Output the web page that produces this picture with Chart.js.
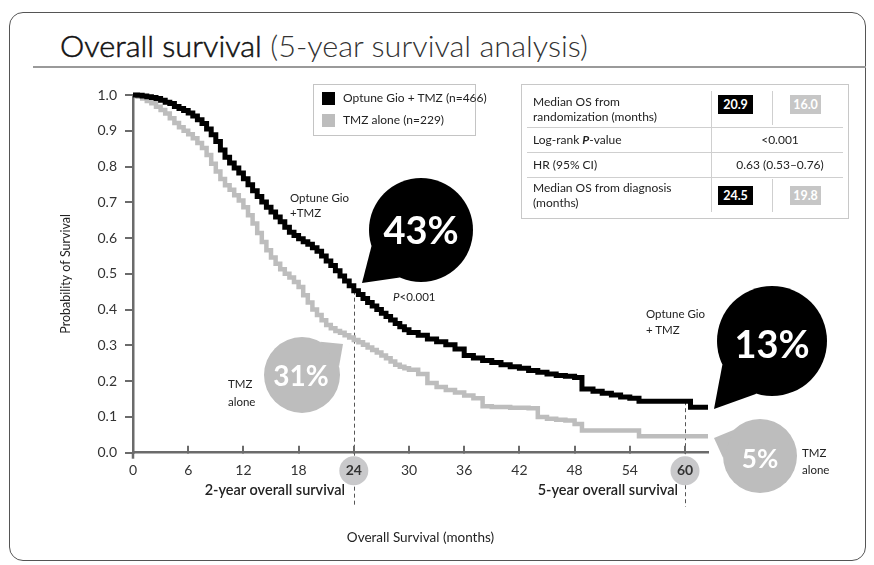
<!DOCTYPE html>
<html><head><meta charset="utf-8">
<script src="https://cdn.jsdelivr.net/npm/chart.js@4/dist/chart.umd.min.js"></script>
<style>
html,body{margin:0;padding:0;background:#fff;}
#wrap{position:relative;width:874px;height:565px;overflow:hidden;font-family:Lato,"Open Sans",sans-serif;color:#222;}
#frame{position:absolute;left:9px;top:12px;width:857px;height:549px;border:1.5px solid #555;border-radius:14px;box-sizing:border-box;}
#c{position:absolute;left:0;top:0;}
#title{position:absolute;left:60px;top:30px;font-size:30px;line-height:1;white-space:nowrap;transform-origin:0 0;color:#111;font-weight:300;}
#title .b{-webkit-text-stroke:0.5px #111;}
#title .l{color:#333;}
#rule{position:absolute;left:33px;top:66px;width:833px;height:1.5px;background:#9a9a9a;}
#legend{position:absolute;left:313px;top:84px;width:163px;height:52px;border:1px solid #c4c4c4;box-sizing:border-box;}
.sw{position:absolute;width:13px;height:13px;}
.lt{position:absolute;font-size:12px;white-space:nowrap;line-height:1;color:#222;}
#table{position:absolute;left:521px;top:84px;width:328px;height:135px;border:1px solid #c8c8c8;box-sizing:border-box;}
.hl{position:absolute;height:1px;background:#cfcfcf;}
.vl{position:absolute;width:1px;background:#cfcfcf;}
.tt{position:absolute;font-size:12px;white-space:nowrap;line-height:1;color:#222;}
.vb{position:absolute;height:19px;color:#fff;font-weight:700;font-size:12.5px;line-height:19px;text-align:center;}
.bub{position:absolute;color:#fff;font-weight:700;white-space:nowrap;line-height:1;transform:translate(-50%,-50%);}
.sm{position:absolute;font-size:11.5px;white-space:nowrap;line-height:1;color:#222;}
.yr{position:absolute;font-size:14.5px;font-weight:600;white-space:nowrap;line-height:1;color:#222;transform:translate(-100%,0);}
</style></head>
<body><div id="wrap">
<div id="frame"></div>
<div id="title"><span class="b">Overall survival</span> <span class="l">(5-year survival analysis)</span></div>
<div id="rule"></div>
<canvas id="c" width="874" height="565"></canvas>
<div id="legend"></div>
<div id="table">
  <div class="hl" style="left:5px;right:5px;top:42px"></div>
  <div class="hl" style="left:5px;right:5px;top:67px"></div>
  <div class="hl" style="left:5px;right:5px;top:92px"></div>
  <div class="vl" style="left:189px;top:6px;height:121px"></div>
  <div class="vl" style="left:250px;top:6px;height:34px"></div>
  <div class="vl" style="left:250px;top:94px;height:33px"></div>
  <div class="tt" style="left:11px;top:11px">Median OS from</div>
  <div class="tt" style="left:11px;top:26px">randomization (months)</div>
  <div class="tt" style="left:11px;top:49px">Log-rank <b><i>P</i></b>-value</div>
  <div class="tt" style="left:11px;top:74px">HR (95% CI)</div>
  <div class="tt" style="left:11px;top:97px">Median OS from diagnosis</div>
  <div class="tt" style="left:11px;top:112px">(months)</div>
  <div class="tt" style="left:258px;top:49px;transform:translateX(-50%)">&lt;0.001</div>
  <div class="tt" style="left:258px;top:74px;transform:translateX(-50%)">0.63 (0.53–0.76)</div>
  <div class="vb" style="left:196px;top:10px;width:35px;background:#000">20.9</div>
  <div class="vb" style="left:268px;top:10px;width:31px;background:#c6c6c6">16.0</div>
  <div class="vb" style="left:196px;top:101px;width:35px;background:#000">24.5</div>
  <div class="vb" style="left:268px;top:101px;width:31px;background:#c6c6c6">19.8</div>
</div>
<div class="bub" style="left:421px;top:229px;font-size:38px">43%</div>
<div class="bub" style="left:301px;top:375px;font-size:28px">31%</div>
<div class="bub" style="left:772px;top:343px;font-size:38px">13%</div>
<div class="bub" style="left:760px;top:458px;font-size:26px">5%</div>
<div class="sm" style="left:290px;top:192px">Optune Gio</div>
<div class="sm" style="left:290px;top:207px">+TMZ</div>
<div class="sm" style="left:393px;top:291px"><i>P</i>&lt;0.001</div>
<div class="sm" style="left:228px;top:378px">TMZ</div>
<div class="sm" style="left:228px;top:396px">alone</div>
<div class="sm" style="left:646px;top:308px">Optune Gio</div>
<div class="sm" style="left:646px;top:324px">+ TMZ</div>
<div class="sm" style="left:802px;top:447px">TMZ</div>
<div class="sm" style="left:802px;top:464px">alone</div>
<div class="yr" style="left:345px;top:483px">2-year overall survival</div>
<div class="yr" style="left:678px;top:483px">5-year overall survival</div>
</div>
<script>
// ---- data ----
const SERIES_LABELS = ['Optune Gio + TMZ (n=466)', 'TMZ alone (n=229)'];
const SERIES_COLORS = ['#000000', '#bdbdbd'];
const BLACK_MONTHS = [0,0.5,1,1.5,2,2.5,3,3.5,4,4.5,5,5.5,6,6.5,7,7.5,8,8.5,9,9.5,10,10.5,11,11.5,12,12.5,13,13.5,14,14.5,15,15.5,16,16.5,17,17.5,18,18.5,19,19.5,20,20.5,21,21.5,22,22.5,23,23.5,24,24.5,25,25.5,26,26.5,27,27.5,28,28.5,29,29.5,30,31,32,33,34,35,36,37,38,39,40,41,42,43,44,45,46,47,48,48.8,50,51,52,53,54,55,60.6,62.5];
const BLACK_SURV   = [1.0,0.999,0.997,0.995,0.993,0.99,0.985,0.98,0.976,0.968,0.962,0.957,0.95,0.941,0.931,0.92,0.905,0.889,0.87,0.846,0.826,0.81,0.796,0.782,0.766,0.749,0.732,0.716,0.701,0.686,0.673,0.659,0.646,0.63,0.616,0.607,0.598,0.59,0.583,0.573,0.563,0.55,0.536,0.523,0.509,0.494,0.48,0.467,0.453,0.442,0.431,0.42,0.41,0.4,0.39,0.381,0.371,0.361,0.352,0.344,0.336,0.328,0.318,0.31,0.302,0.29,0.272,0.265,0.258,0.252,0.246,0.24,0.236,0.23,0.225,0.22,0.216,0.214,0.21,0.178,0.172,0.166,0.161,0.156,0.152,0.144,0.127,0.127];
const GRAY_MONTHS  = [0,0.5,1,1.5,2,2.5,3,3.5,4,4.5,5,5.5,6,6.5,7,7.5,8,8.5,9,9.5,10,10.5,11,11.5,12,12.5,13,13.5,14,14.5,15,15.5,16,16.5,17,17.5,18,18.5,19,19.5,20,20.5,21,21.5,22,22.5,23,23.5,24,24.5,25,25.5,26,26.5,27,27.5,28,28.5,29,29.5,30,31,32,33,34,35,36,37,38,39,41,43,44,45,46,47,48,48.8,55,62.5];
const GRAY_SURV    = [1.0,0.995,0.99,0.983,0.977,0.967,0.958,0.948,0.935,0.922,0.91,0.9,0.89,0.879,0.866,0.852,0.832,0.808,0.786,0.765,0.748,0.735,0.72,0.705,0.686,0.664,0.641,0.614,0.589,0.566,0.546,0.528,0.513,0.5,0.49,0.477,0.463,0.44,0.42,0.4,0.385,0.37,0.357,0.348,0.34,0.335,0.328,0.322,0.315,0.309,0.302,0.294,0.287,0.28,0.272,0.264,0.255,0.246,0.24,0.236,0.232,0.22,0.195,0.184,0.175,0.168,0.16,0.152,0.13,0.128,0.126,0.124,0.1,0.095,0.092,0.09,0.08,0.062,0.046,0.046];
const X_TICKS = [0,6,12,18,24,30,36,42,48,54,60];
const Y_TICKS = [0,0.1,0.2,0.3,0.4,0.5,0.6,0.7,0.8,0.9,1.0];
const HIGHLIGHT_MONTHS = [24, 60];
const X_MAX = 62.5;

// legend (HTML)
const lg = document.getElementById('legend');
SERIES_LABELS.forEach((lab, i) => {
  const sw = document.createElement('div'); sw.className = 'sw';
  sw.style.left = '8px'; sw.style.top = (7 + i * 22) + 'px'; sw.style.background = SERIES_COLORS[i];
  const tx = document.createElement('div'); tx.className = 'lt';
  tx.style.left = '29px'; tx.style.top = (7 + i * 22) + 'px'; tx.textContent = lab;
  lg.appendChild(sw); lg.appendChild(tx);
});

// fit title width
const ti = document.getElementById('title');
const tw = ti.getBoundingClientRect().width;
ti.style.transform = 'scaleX(' + (528 / tw) + ')';

function stepAt(ts, vs, m) {
  let v = vs[0];
  for (let i = 0; i < ts.length; i++) { if (ts[i] <= m) v = vs[i]; }
  return v;
}

function bubble(ctx, cx, cy, r, tx, ty, color) {
  const a = Math.atan2(ty - cy, tx - cx);
  ctx.fillStyle = color;
  ctx.beginPath(); ctx.arc(cx, cy, r, 0, Math.PI * 2); ctx.fill();
  ctx.beginPath();
  ctx.moveTo(cx + r * Math.cos(a - 0.42), cy + r * Math.sin(a - 0.42));
  ctx.lineTo(tx, ty);
  ctx.lineTo(cx + r * Math.cos(a + 0.42), cy + r * Math.sin(a + 0.42));
  ctx.closePath(); ctx.fill();
}

const overlay = {
  id: 'overlay',
  beforeDraw(chart) {
    const {ctx, scales: {x, y}} = chart;
    const y0 = y.getPixelForValue(0);
    ctx.save();
    ctx.strokeStyle = '#555'; ctx.lineWidth = 1; ctx.setLineDash([4, 3]);
    HIGHLIGHT_MONTHS.forEach(m => {
      const px = Math.round(x.getPixelForValue(m)) + 0.5;
      const v = stepAt(BLACK_MONTHS, BLACK_SURV, m);
      ctx.beginPath(); ctx.moveTo(px, y.getPixelForValue(v)); ctx.lineTo(px, y0 + 54); ctx.stroke();
    });
    ctx.setLineDash([]);
    ctx.fillStyle = '#c9c9cb';
    HIGHLIGHT_MONTHS.forEach(m => {
      ctx.beginPath(); ctx.arc(x.getPixelForValue(m), y0 + 18, 14.5, 0, Math.PI * 2); ctx.fill();
    });
    ctx.restore();
  },
  afterDraw(chart) {
    const {ctx, scales: {x, y}} = chart;
    ctx.save();
    ctx.strokeStyle = '#6b6b6b'; ctx.lineWidth = 2.5;
    ctx.beginPath(); ctx.moveTo(x.getPixelForValue(0), y.getPixelForValue(0)); ctx.lineTo(x.getPixelForValue(0), y.getPixelForValue(0) + 6); ctx.stroke();
    bubble(ctx, 421, 230, 52, 362, 283, '#000');
    bubble(ctx, 302, 375, 38, 343, 344, '#bdbdbd');
    bubble(ctx, 772, 341, 55, 714, 409, '#000');
    bubble(ctx, 760, 456, 37, 714, 438, '#bdbdbd');
    ctx.restore();
  }
};

const toPts = (ts, vs) => ts.map((t, i) => ({x: t, y: vs[i]}));

new Chart(document.getElementById('c'), {
  type: 'line',
  data: {
    datasets: [
      {label: SERIES_LABELS[0], data: toPts(BLACK_MONTHS, BLACK_SURV), borderColor: SERIES_COLORS[0], borderWidth: 5, stepped: true, pointRadius: 0, fill: false, clip: false},
      {label: SERIES_LABELS[1], data: toPts(GRAY_MONTHS, GRAY_SURV), borderColor: SERIES_COLORS[1], borderWidth: 4.5, stepped: true, pointRadius: 0, fill: false, clip: false}
    ]
  },
  options: {
    responsive: false, animation: false,
    layout: {padding: {left: 54, top: 95, right: 166, bottom: 15}},
    plugins: {legend: {display: false}, tooltip: {enabled: false}},
    scales: {
      x: {
        type: 'linear', min: 0, max: X_MAX,
        afterBuildTicks: s => { s.ticks = X_TICKS.map(v => ({value: v})); },
        afterFit: s => { s.height = 97.3; },
        border: {display: true, color: '#6b6b6b', width: 2.5},
        grid: {display: true, drawOnChartArea: false, drawTicks: true, tickLength: -7, color: '#6b6b6b', lineWidth: 2},
        ticks: {
          padding: 16.5, color: '#333', maxRotation: 0, autoSkip: false,
          font: ctx => ({family: 'Lato', size: 14, weight: HIGHLIGHT_MONTHS.includes(ctx.tick && ctx.tick.value) ? '700' : '400'}),
          callback: v => String(v)
        },
        title: {display: true, text: 'Overall Survival (months)', color: '#222', font: {family: 'Lato', size: 13.5}, padding: {top: 4, bottom: 4}}
      },
      y: {
        type: 'linear', min: 0, max: 1,
        afterBuildTicks: s => { s.ticks = Y_TICKS.map(v => ({value: v})); },
        afterFit: s => { s.width = 79; },
        border: {display: true, color: '#6b6b6b', width: 2.5},
        grid: {display: true, drawOnChartArea: false, drawTicks: true, tickLength: 8, color: '#6b6b6b', lineWidth: 2},
        ticks: {padding: 8, color: '#333', font: {family: 'Lato', size: 14}, callback: v => Number(v).toFixed(1)},
        title: {display: true, text: 'Probability of Survival', color: '#222', font: {family: 'Lato', size: 12.5}, padding: {top: 4, bottom: 4}}
      }
    }
  },
  plugins: [overlay]
});
</script>
</body></html>
